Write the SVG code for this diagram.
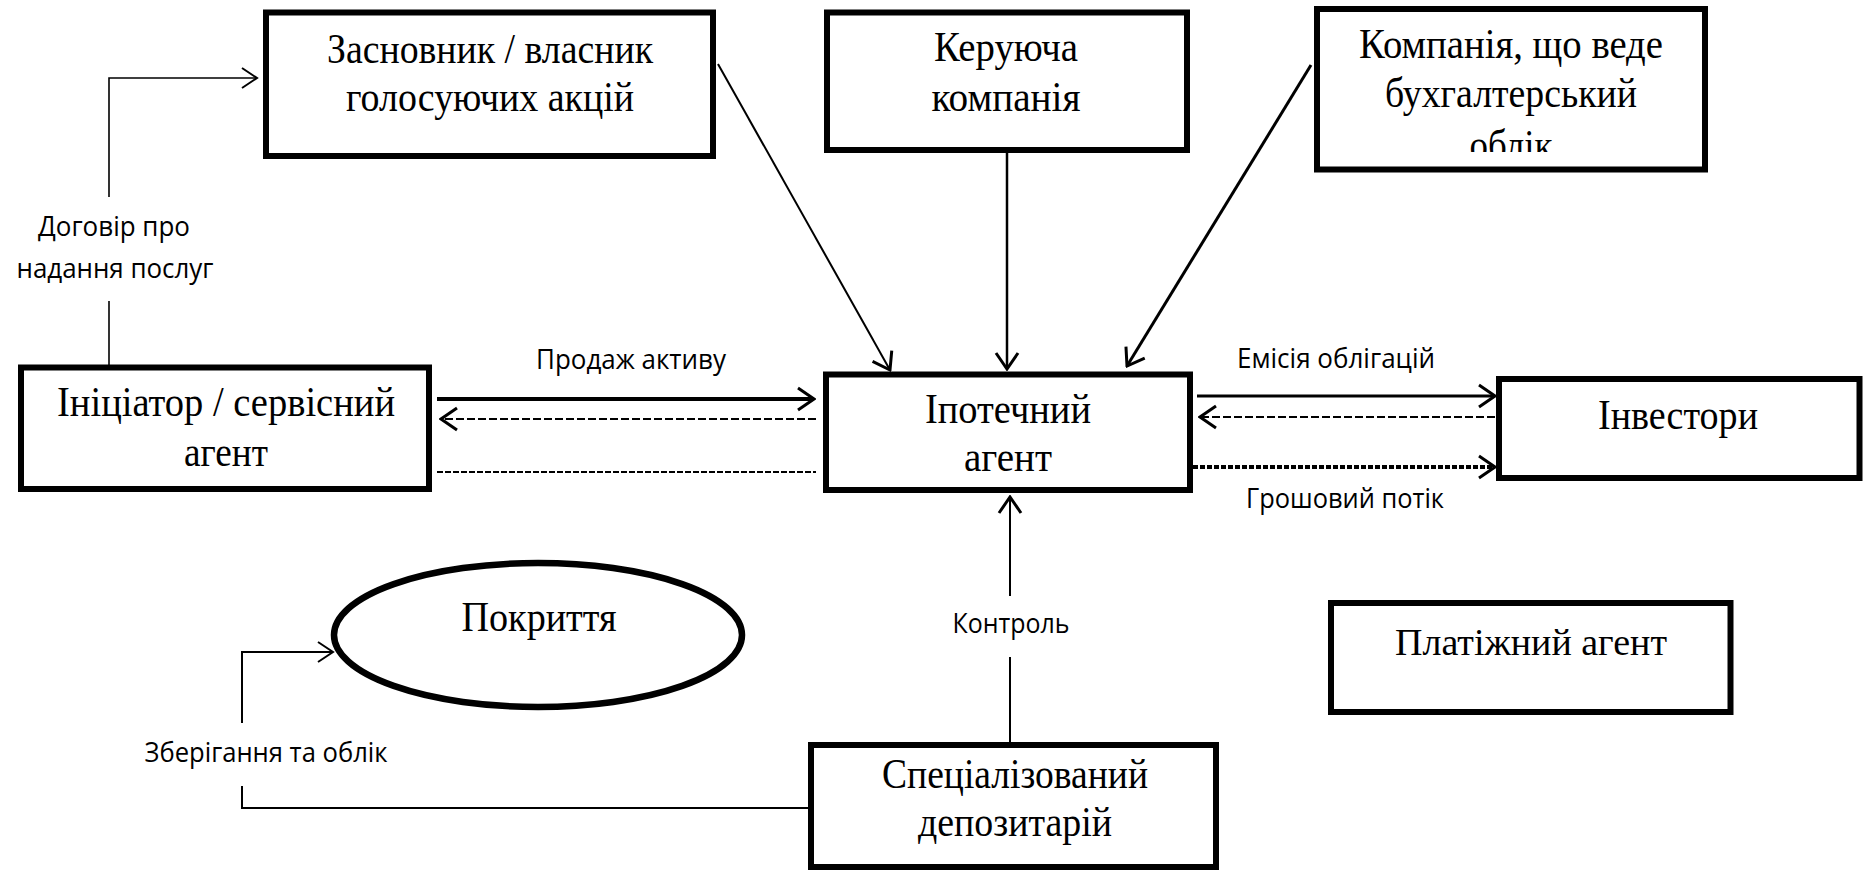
<svg xmlns="http://www.w3.org/2000/svg" width="1865" height="871" viewBox="0 0 1865 871">
  <style>
    .box { fill: #fff; stroke: #000; stroke-width: 6; }
    .nt { font-family: "Liberation Serif", "Times New Roman", serif; font-size: 42px; fill: #000; text-anchor: middle; }
    .nt2 { font-family: "Liberation Serif", "Times New Roman", serif; font-size: 38px; fill: #000; text-anchor: middle; }
    .lb { font-family: "Open Sans", "Noto Sans", sans-serif; font-size: 27px; fill: #000; text-anchor: middle; }
    .ln { fill: none; stroke: #000; }
  </style>
  <defs>
    <marker id="arr" markerUnits="userSpaceOnUse" viewBox="0 0 20 26" refX="18" refY="13" markerWidth="20" markerHeight="26" orient="auto">
      <path d="M2,2 L18,13 L2,24" fill="none" stroke="#000" stroke-width="3"/>
    </marker>
    <marker id="arrs" markerUnits="userSpaceOnUse" viewBox="0 0 20 26" refX="18" refY="13" markerWidth="20" markerHeight="26" orient="auto">
      <path d="M3,3 L18,13 L3,23" fill="none" stroke="#000" stroke-width="2"/>
    </marker>
    <clipPath id="clipAcc">
      <rect x="1317" y="12" width="388" height="140"/>
    </clipPath>
  </defs>

  <!-- connectors -->
  <g id="connectors">
    <!-- service agreement: originator -> founder -->
    <line class="ln" x1="109" y1="365" x2="109" y2="301" stroke-width="1.6"/>
    <polyline class="ln" points="109,197 109,78 257,78" stroke-width="1.6" marker-end="url(#arrs)"/>
    <!-- founder, management company, accounting company -> mortgage agent -->
    <line class="ln" x1="718" y1="64" x2="890" y2="370" stroke-width="2" marker-end="url(#arr)"/>
    <line class="ln" x1="1007" y1="152" x2="1007" y2="369" stroke-width="2.5" marker-end="url(#arr)"/>
    <line class="ln" x1="1311" y1="65" x2="1127" y2="366" stroke-width="3" marker-end="url(#arr)"/>
    <!-- originator <-> mortgage agent -->
    <line class="ln" x1="437" y1="399" x2="814" y2="399" stroke-width="4" marker-end="url(#arr)"/>
    <line class="ln" x1="816" y1="419" x2="441" y2="419" stroke-width="2" stroke-dasharray="8 3" marker-end="url(#arr)"/>
    <line class="ln" x1="437" y1="472" x2="816" y2="472" stroke-width="2" stroke-dasharray="6 2"/>
    <!-- mortgage agent <-> investors -->
    <line class="ln" x1="1197" y1="396" x2="1495" y2="396" stroke-width="3" marker-end="url(#arr)"/>
    <line class="ln" x1="1495" y1="417" x2="1200" y2="417" stroke-width="2" stroke-dasharray="8 3" marker-end="url(#arr)"/>
    <line class="ln" x1="1193" y1="467" x2="1495" y2="467" stroke-width="4" stroke-dasharray="5 2" marker-end="url(#arr)"/>
    <!-- control: depositary -> mortgage agent -->
    <line class="ln" x1="1010" y1="743" x2="1010" y2="657" stroke-width="2"/>
    <line class="ln" x1="1010" y1="596" x2="1010" y2="497" stroke-width="2" marker-end="url(#arr)"/>
    <!-- custody: depositary -> coverage -->
    <polyline class="ln" points="808,808 242,808 242,786" stroke-width="2"/>
    <polyline class="ln" points="242,723 242,652 333,652" stroke-width="2" marker-end="url(#arrs)"/>

    <text class="lb" x="114" y="236" textLength="152" lengthAdjust="spacingAndGlyphs">Договір про</text>
    <text class="lb" x="115" y="278" textLength="197" lengthAdjust="spacingAndGlyphs">надання послуг</text>
    <text class="lb" x="631" y="369" textLength="190" lengthAdjust="spacingAndGlyphs">Продаж активу</text>
    <text class="lb" x="1336" y="368" textLength="198" lengthAdjust="spacingAndGlyphs">Емісія облігацій</text>
    <text class="lb" x="1345" y="508" textLength="198" lengthAdjust="spacingAndGlyphs">Грошовий потік</text>
    <text class="lb" x="1011" y="633" textLength="117" lengthAdjust="spacingAndGlyphs">Контроль</text>
    <text class="lb" x="266" y="762" textLength="243" lengthAdjust="spacingAndGlyphs">Зберігання та облік</text>
  </g>

  <g id="founder">
    <rect class="box" x="266" y="12.5" width="447" height="143.5"/>
    <text class="nt" x="490" y="63" textLength="326" lengthAdjust="spacingAndGlyphs">Засновник / власник</text>
    <text class="nt" x="490" y="111" textLength="288" lengthAdjust="spacingAndGlyphs">голосуючих акцій</text>
  </g>

  <g id="management-company">
    <rect class="box" x="827" y="12.5" width="360" height="137.5"/>
    <text class="nt" x="1006" y="61" textLength="144" lengthAdjust="spacingAndGlyphs">Керуюча</text>
    <text class="nt" x="1006" y="111" textLength="149" lengthAdjust="spacingAndGlyphs">компанія</text>
  </g>

  <g id="accounting-company">
    <rect class="box" x="1317" y="9" width="388" height="160.5"/>
    <g clip-path="url(#clipAcc)">
      <text class="nt" x="1511" y="58" textLength="304" lengthAdjust="spacingAndGlyphs">Компанія, що веде</text>
      <text class="nt" x="1511" y="107" textLength="252" lengthAdjust="spacingAndGlyphs">бухгалтерський</text>
      <text class="nt" x="1511" y="159" textLength="83" lengthAdjust="spacingAndGlyphs">облік</text>
    </g>
  </g>

  <g id="originator">
    <rect class="box" x="21" y="367.5" width="408" height="121.5"/>
    <text class="nt" x="226" y="416" textLength="338" lengthAdjust="spacingAndGlyphs">Ініціатор / сервісний</text>
    <text class="nt" x="226" y="466" textLength="84" lengthAdjust="spacingAndGlyphs">агент</text>
  </g>

  <g id="mortgage-agent">
    <rect class="box" x="826" y="374.5" width="364" height="115.5"/>
    <text class="nt" x="1008" y="423" textLength="166" lengthAdjust="spacingAndGlyphs">Іпотечний</text>
    <text class="nt" x="1008" y="471" textLength="88" lengthAdjust="spacingAndGlyphs">агент</text>
  </g>

  <g id="investors">
    <rect class="box" x="1499" y="379" width="360.5" height="99"/>
    <text class="nt" x="1678" y="429" textLength="160" lengthAdjust="spacingAndGlyphs">Інвестори</text>
  </g>

  <g id="coverage">
    <ellipse cx="538" cy="635" rx="204" ry="72" fill="#fff" stroke="#000" stroke-width="6.5"/>
    <text class="nt" x="539" y="631" textLength="155" lengthAdjust="spacingAndGlyphs">Покриття</text>
  </g>

  <g id="paying-agent">
    <rect class="box" x="1331" y="603" width="399.5" height="109"/>
    <text class="nt2" x="1531" y="655" textLength="272" lengthAdjust="spacingAndGlyphs">Платіжний агент</text>
  </g>

  <g id="depositary">
    <rect class="box" x="811" y="745" width="405" height="122"/>
    <text class="nt" x="1015" y="788" textLength="266" lengthAdjust="spacingAndGlyphs">Спеціалізований</text>
    <text class="nt" x="1015" y="836" textLength="194" lengthAdjust="spacingAndGlyphs">депозитарій</text>
  </g>
</svg>
